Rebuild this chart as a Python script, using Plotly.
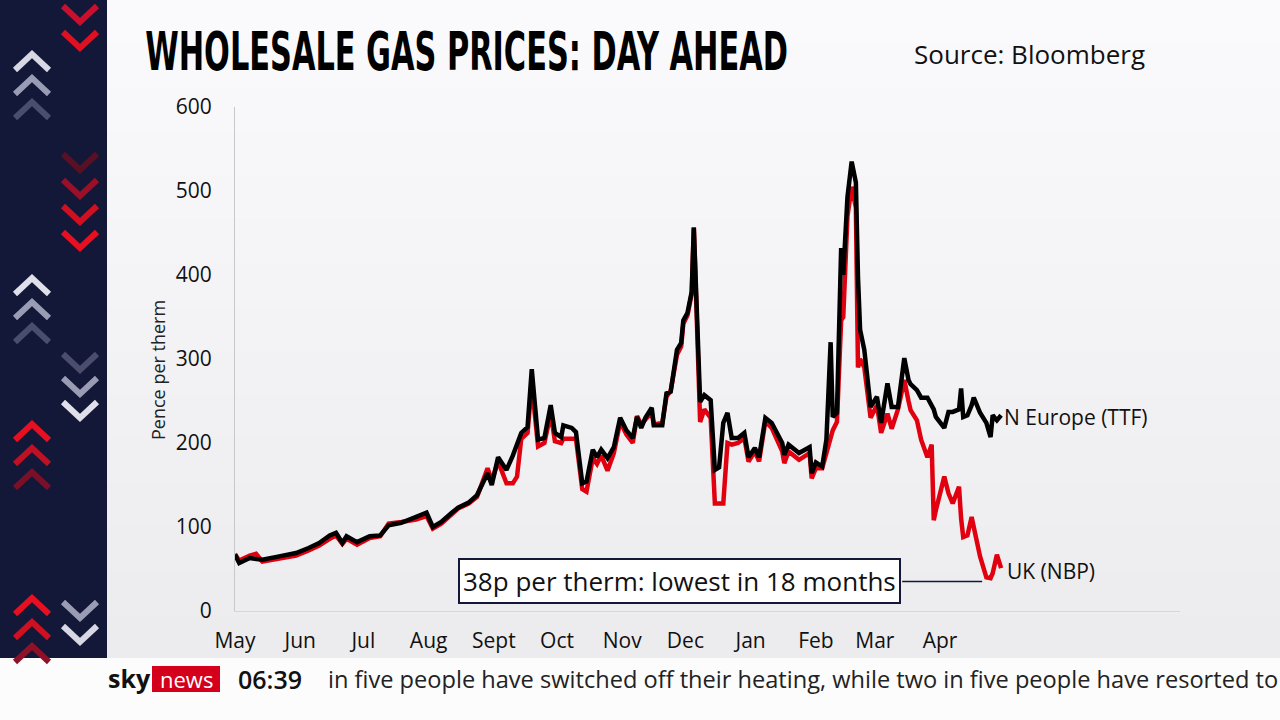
import plotly.graph_objects as go

# --- data (pence per therm, day-ahead) ---
dates = [
    "2022-05-01", "2022-05-03", "2022-05-08", "2022-05-11", "2022-05-14", "2022-05-22", "2022-05-30",
    "2022-06-05", "2022-06-10", "2022-06-15", "2022-06-18", "2022-06-21", "2022-06-23", "2022-06-28",
    "2022-07-04", "2022-07-09", "2022-07-13", "2022-07-19", "2022-07-26", "2022-07-31",
    "2022-08-03", "2022-08-07", "2022-08-12", "2022-08-15", "2022-08-20", "2022-08-24", "2022-08-29", "2022-08-31",
    "2022-09-03", "2022-09-07", "2022-09-10", "2022-09-12", "2022-09-14", "2022-09-17", "2022-09-19",
    "2022-09-22", "2022-09-25", "2022-09-28", "2022-09-30",
    "2022-10-03", "2022-10-04", "2022-10-08", "2022-10-10", "2022-10-13", "2022-10-15", "2022-10-18",
    "2022-10-20", "2022-10-22", "2022-10-25", "2022-10-28", "2022-10-31",
    "2022-11-03", "2022-11-06", "2022-11-08", "2022-11-10", "2022-11-12", "2022-11-15", "2022-11-16",
    "2022-11-20", "2022-11-22", "2022-11-24", "2022-11-27", "2022-11-29", "2022-11-30",
    "2022-12-02", "2022-12-04", "2022-12-05", "2022-12-08", "2022-12-10", "2022-12-13", "2022-12-15",
    "2022-12-17", "2022-12-19", "2022-12-21", "2022-12-23", "2022-12-26", "2022-12-29", "2022-12-31",
    "2023-01-03", "2023-01-05", "2023-01-08", "2023-01-11", "2023-01-16", "2023-01-17", "2023-01-19",
    "2023-01-24", "2023-01-29", "2023-01-30",
    "2023-02-01", "2023-02-04", "2023-02-06", "2023-02-08", "2023-02-09", "2023-02-11", "2023-02-13",
    "2023-02-14", "2023-02-16", "2023-02-18", "2023-02-20", "2023-02-21", "2023-02-22", "2023-02-24",
    "2023-02-27",
    "2023-03-02", "2023-03-04", "2023-03-07", "2023-03-09", "2023-03-12", "2023-03-15", "2023-03-17",
    "2023-03-18", "2023-03-21", "2023-03-23", "2023-03-26", "2023-03-28", "2023-03-29", "2023-03-30",
    "2023-04-03", "2023-04-05", "2023-04-07", "2023-04-10", "2023-04-11", "2023-04-12", "2023-04-14",
    "2023-04-16", "2023-04-17", "2023-04-18", "2023-04-20", "2023-04-23", "2023-04-25", "2023-04-26",
    "2023-04-28", "2023-04-30",
]

ttf = [
    67, 57, 63, 62, 61, 65, 69,
    75, 81, 90, 93, 81, 89, 82,
    89, 90, 102, 105, 112, 117,
    100, 106, 117, 123, 129, 138, 164, 150,
    183, 168, 185, 200, 212, 219, 288,
    204, 206, 245, 212,
    207, 221, 218, 213, 152, 154, 192,
    183, 192, 182, 195, 230,
    215, 206, 231, 218, 230, 242, 221,
    221, 259, 261, 311, 319, 346,
    355, 380, 456, 249, 257, 251, 168,
    171, 224, 236, 206, 206, 212, 183,
    194, 183, 230, 224, 200, 186, 198,
    188, 195, 164,
    177, 172, 204, 320, 231, 236, 432,
    400, 493, 535, 510, 398, 335, 311,
    243,
    255, 224, 271, 243, 243, 301, 275,
    270, 263, 254, 254, 245, 240, 231,
    218, 237, 237, 240, 265, 231, 233,
    245, 254, 248, 236, 224, 207, 233,
    227, 233,
]

nbp = [
    68, 60, 66, 68, 59, 62, 66,
    72, 78, 86, 90, 80, 86, 79,
    87, 89, 104, 106, 109, 113,
    98, 104, 115, 122, 128, 136, 170, 155,
    178, 152, 152, 160, 205, 212, 270,
    196, 200, 235, 202,
    200, 205, 205, 205, 145, 142, 182,
    175, 185, 167, 188, 225,
    210, 200, 232, 222, 228, 236, 222,
    224, 255, 262, 305, 315, 342,
    352, 378, 457, 225, 240, 230, 128,
    128, 128, 200, 198, 200, 206, 178,
    190, 178, 226, 218, 190, 176, 190,
    180, 188, 158,
    170, 170, 190, 210, 215, 225, 346,
    350, 470, 505, 480, 290, 300, 290,
    230,
    245, 212, 235, 217, 240, 275, 250,
    239, 227, 204, 183, 198, 108, 120,
    160, 140, 128, 148, 110, 88, 90,
    112, 100, 88, 65, 40, 39, 45,
    67, 51,
]

month_starts = ["2022-05-01", "2022-06-01", "2022-07-01", "2022-08-01", "2022-09-01", "2022-10-01",
                "2022-11-01", "2022-12-01", "2023-01-01", "2023-02-01", "2023-03-01", "2023-04-01"]
month_labels = ["May", "Jun", "Jul", "Aug", "Sept", "Oct", "Nov", "Dec", "Jan", "Feb", "Mar", "Apr"]

# plot area in page pixels, used to place the decoration around it
PLOT_L, PLOT_R, PLOT_T, PLOT_B = 235, 1180, 107, 611


def px(x):
    return (x - PLOT_L) / (PLOT_R - PLOT_L)


def py(y):
    return (PLOT_B - y) / (PLOT_B - PLOT_T)


FONT = "Open Sans, Noto Sans, sans-serif"
NAVY = "#131839"
RED = "#e1000f"
TITLE = "WHOLESALE GAS PRICES: DAY AHEAD"

fig = go.Figure()

fig.add_trace(go.Scatter(x=dates, y=nbp, mode="lines", name="UK (NBP)",
                         line=dict(color=RED, width=4.5)))
fig.add_trace(go.Scatter(x=dates, y=ttf, mode="lines", name="N Europe (TTF)",
                         line=dict(color="black", width=4.5)))

shapes = []

# soft background gradient, lighter at the top
n_bands = 30
band_h = 658 / n_bands
for i in range(n_bands):
    g = round(250 - 14 * i / (n_bands - 1))
    shapes.append(dict(type="rect", xref="paper", yref="paper", layer="below",
                       x0=px(107), x1=px(1280), y0=py(i * band_h), y1=py((i + 1) * band_h + 0.5),
                       fillcolor="rgb({},{},{})".format(g, g, g + 2), line=dict(width=0)))

# left navy strip
shapes.append(dict(type="rect", xref="paper", yref="paper", layer="below",
                   x0=px(0), x1=px(107), y0=py(0), y1=py(658),
                   fillcolor=NAVY, line=dict(width=0)))

# ticker band
shapes.append(dict(type="rect", xref="paper", yref="paper", layer="below",
                   x0=px(0), x1=px(1280), y0=py(658), y1=py(720),
                   fillcolor="#fcfcfc", line=dict(width=0)))

# sky news red box
shapes.append(dict(type="rect", xref="paper", yref="paper",
                   x0=px(152), x1=px(220), y0=py(666), y1=py(692),
                   fillcolor="#d4001b", line=dict(width=0)))


def chevron(cx, cy, up, color):
    hw, hh = 17, 8
    d = -1 if up else 1
    path = "M {},{} L {},{} L {},{}".format(
        px(cx - hw), py(cy - d * hh), px(cx), py(cy + d * hh), px(cx + hw), py(cy - d * hh))
    return dict(type="path", xref="paper", yref="paper", path=path,
                line=dict(color=color, width=6))


chevrons = [
    (80, 14, False, "#c8102e"), (80, 40, False, "#e01020"),
    (32, 62, True, "#d8d8e4"), (32, 86, True, "#9a9cb4"), (32, 110, True, "#4a4e6c"),
    (80, 162, False, "#5a1024"), (80, 188, False, "#9a1028"), (80, 214, False, "#d01020"),
    (80, 240, False, "#e81020"),
    (32, 286, True, "#e0e0ea"), (32, 310, True, "#9a9cb4"), (32, 334, True, "#4a4e6c"),
    (80, 362, False, "#4a4e6c"), (80, 386, False, "#9a9cb4"), (80, 410, False, "#e0e0ea"),
    (32, 432, True, "#e81020"), (32, 456, True, "#c01024"), (32, 480, True, "#7a1028"),
    (32, 606, True, "#e81020"), (32, 630, True, "#d01020"), (32, 654, True, "#901028"),
    (80, 610, False, "#9a9cb4"), (80, 634, False, "#d8d8e4"),
]
for c in chevrons:
    shapes.append(chevron(*c))

# connector from callout box to the UK low
shapes.append(dict(type="line", xref="x", yref="y",
                   x0="2023-03-14", x1="2023-04-21", y0=35, y1=35,
                   line=dict(color=NAVY, width=1.5)))

annotations = [
    dict(text=TITLE, xref="paper", yref="paper",
         x=px(143), y=py(52), xanchor="left", yanchor="middle", showarrow=False,
         font=dict(family="DejaVu Sans Condensed, DejaVu Sans, sans-serif",
                   size=53, color="black", weight="bold")),
    dict(text="Source: Bloomberg", xref="paper", yref="paper",
         x=px(1147), y=py(54), xanchor="right", yanchor="middle", showarrow=False,
         font=dict(family=FONT, size=26, color="#111")),
    dict(text="Pence per therm", xref="paper", yref="paper",
         x=px(158), y=py(370), xanchor="center", yanchor="middle", showarrow=False,
         textangle=-90, font=dict(family=FONT, size=18, color="#222")),
    dict(text="N Europe (TTF)", xref="x", yref="y", x=dates[-1], y=ttf[-1] - 2,
         xanchor="left", yanchor="middle", xshift=1, showarrow=False,
         font=dict(family=FONT, size=21, color="#111")),
    dict(text="UK (NBP)", xref="x", yref="y", x=dates[-1], y=nbp[-1] - 3,
         xanchor="left", yanchor="middle", xshift=4, showarrow=False,
         font=dict(family=FONT, size=21, color="#111")),
    dict(text="38p per therm: lowest in 18 months", xref="x", yref="y",
         x="2022-11-28", y=36, xanchor="center", yanchor="middle", showarrow=False,
         bgcolor="white", bordercolor=NAVY, borderwidth=2, borderpad=3,
         font=dict(family=FONT, size=26, color="#111")),
    # ticker
    dict(text="<b>sky</b>", xref="paper", yref="paper", x=px(106), y=py(678),
         xanchor="left", yanchor="middle", showarrow=False,
         font=dict(family=FONT, size=25, color="#111")),
    dict(text="news", xref="paper", yref="paper", x=px(186), y=py(679),
         xanchor="center", yanchor="middle", showarrow=False,
         font=dict(family=FONT, size=22, color="white")),
    dict(text="06:39", xref="paper", yref="paper", x=px(236), y=py(679),
         xanchor="left", yanchor="middle", showarrow=False,
         font=dict(family=FONT, size=25, color="#111", weight=600)),
    dict(text="in five people have switched off their heating, while two in five people have resorted to",
         xref="paper", yref="paper", x=px(326), y=py(679),
         xanchor="left", yanchor="middle", showarrow=False,
         font=dict(family=FONT, size=23.6, color="#222")),
]

fig.update_layout(
    width=1280,
    height=720,
    autosize=False,
    margin=dict(l=PLOT_L, r=1280 - PLOT_R, t=PLOT_T, b=720 - PLOT_B),
    paper_bgcolor="#efeff1",
    plot_bgcolor="rgba(0,0,0,0)",
    showlegend=False,
    shapes=shapes,
    annotations=annotations,
    xaxis=dict(
        type="date",
        range=["2022-05-01", "2023-07-24"],
        tickvals=month_starts,
        ticktext=month_labels,
        ticks="outside", ticklen=11, tickcolor="rgba(0,0,0,0)",
        showgrid=False, zeroline=False,
        showline=True, linecolor="#d6d6da", linewidth=1,
        tickfont=dict(family=FONT, size=21, color="#111"),
    ),
    yaxis=dict(
        range=[0, 600],
        tickvals=[0, 100, 200, 300, 400, 500, 600],
        ticks="outside", ticklen=18, tickcolor="rgba(0,0,0,0)",
        showgrid=False, zeroline=False,
        showline=True, linecolor="#c8c8cc", linewidth=1,
        tickfont=dict(family=FONT, size=21, color="#111"),
    ),
)

# no page margin, and squeeze the headline into the condensed width of the original
post = """
document.body.style.margin = '0';
document.querySelectorAll('.annotation-text').forEach(function (t) {
    if (t.textContent === '%s') {
        var w = t.getBBox().width;
        t.style.transformBox = 'fill-box';
        t.style.transformOrigin = '0 50%%';
        t.style.transform = 'scaleX(' + (643 / w) + ')';
    }
});
""" % TITLE

fig.write_html("out.html", post_script=post, config={"displayModeBar": False})
